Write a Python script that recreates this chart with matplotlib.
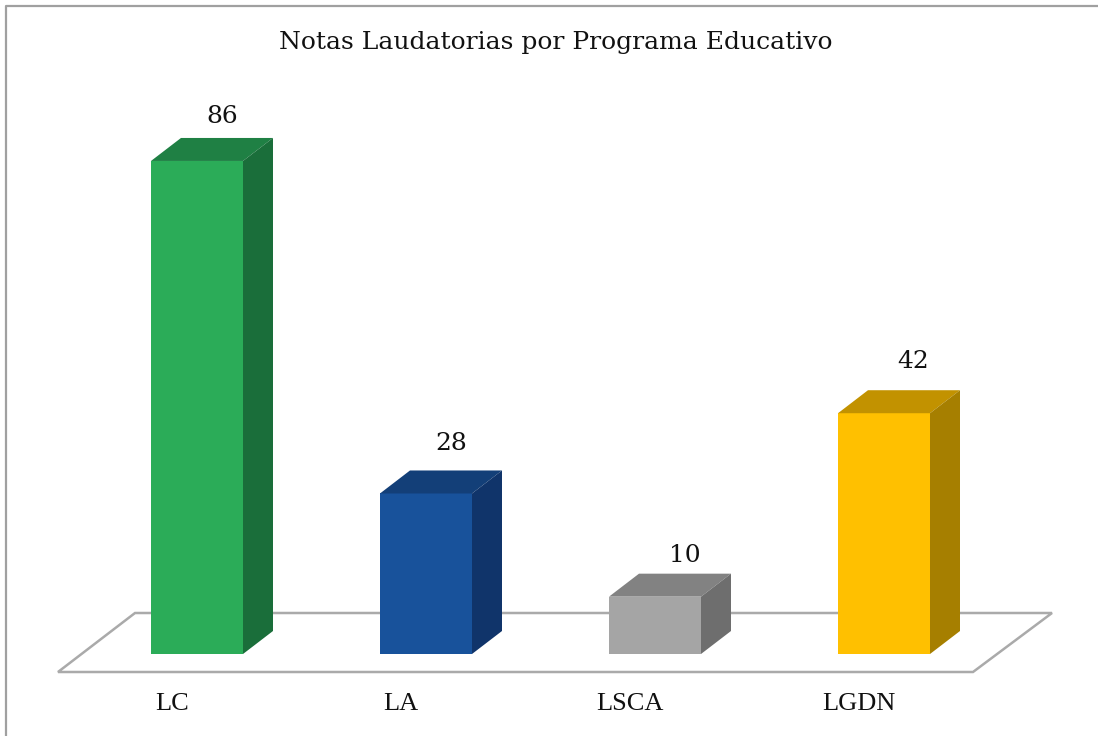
import matplotlib
matplotlib.use('Agg')
import matplotlib.pyplot as plt
from matplotlib.patches import Polygon

programs = ['LC', 'LA', 'LSCA', 'LGDN']
notes = [86, 28, 10, 42]
front_colors = ['#2bac58', '#18529b', '#a5a5a5', '#ffc000']
top_colors = ['#1f8044', '#133f78', '#828282', '#c29200']
side_colors = ['#1a6e3a', '#10346a', '#6e6e6e', '#a67f00']

W, H = 1098, 736
fig = plt.figure(figsize=(W / 100, H / 100), dpi=100)
ax = fig.add_axes([0, 0, 1, 1])

# scale: one category is 229 px, one note is 5.733 px
px_x = 229
px_y = 5.733
ax.set_xlim(-197 / px_x, (W - 197) / px_x)
ax.set_ylim(-(H - 654) / px_y, 654 / px_y)
ax.axis('off')

width = 92 / px_x
dx = 30 / px_x
dy = 23 / px_y
x = list(range(len(programs)))

# value labels were placed by hand in the original, so each has its own nudge (px)
label_dx = [25, 25, 30, 29]
label_dy = [21, 27, 18, 29]

# floor
floor_low = -18 / px_y
floor_high = 41 / px_y
floor = Polygon([(-139 / px_x, floor_low), (-62 / px_x, floor_high),
                 (855 / px_x, floor_high), (776 / px_x, floor_low)],
                closed=True, fill=False, edgecolor='#aaaaaa', lw=1.8, zorder=1)
ax.add_patch(floor)

# bars, with the top and side faces offset from each value
bars = ax.bar(x, notes, width, color=front_colors, zorder=3)
for i, (xi, v) in enumerate(zip(x, notes)):
    left = xi - width / 2
    right = xi + width / 2
    ax.add_patch(Polygon([(left, v), (left + dx, v + dy), (right + dx, v + dy), (right, v)],
                         closed=True, color=top_colors[i], lw=0, zorder=3))
    ax.add_patch(Polygon([(right, 0), (right + dx, dy), (right + dx, v + dy), (right, v)],
                         closed=True, color=side_colors[i], lw=0, zorder=3))
    ax.text(xi + label_dx[i] / px_x, v + dy + label_dy[i] / px_y, str(v), ha='center', va='center',
            fontsize=18, family='DejaVu Serif', color='#111111')

for xi, name in zip(x, programs):
    ax.text(xi - 25 / px_x, -50 / px_y, name, ha='center', va='center',
            fontsize=19, family='Liberation Serif', color='#111111')

ax.text(556 / W, 1 - 43 / H, 'Notas Laudatorias por Programa Educativo', transform=ax.transAxes,
        ha='center', va='center', fontsize=18, family='DejaVu Serif', color='#111111')

# chart border, cut off by the image on the right and bottom
fig.add_artist(plt.Line2D([6 / W, 6 / W, 1], [0, 1 - 5.5 / H, 1 - 5.5 / H],
                          color='#a0a0a0', lw=1.6))

fig.savefig('out.png', dpi=100)
